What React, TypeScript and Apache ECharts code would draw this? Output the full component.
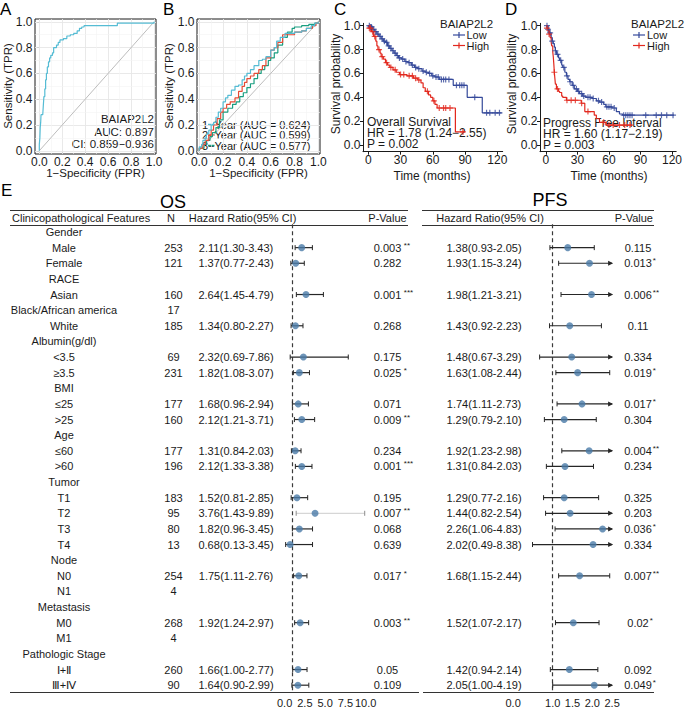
import React, { useEffect, useRef } from 'react';
import * as echarts from 'echarts';

const FONT = '"Liberation Sans", Arial, Helvetica, sans-serif';

// ---------- Panel A / B : ROC ----------
const rocTicks = [0, 0.2, 0.4, 0.6, 0.8, 1.0];
const rocMinor = [0.1, 0.3, 0.5, 0.7, 0.9];
const rocA: number[][] = [
  [0, 0], [0, 0.05], [0.005, 0.1], [0.008, 0.18], [0.012, 0.22], [0.015, 0.28], [0.03, 0.28], [0.035, 0.35],
  [0.04, 0.42], [0.048, 0.48], [0.055, 0.55], [0.062, 0.6], [0.07, 0.65], [0.08, 0.69], [0.09, 0.72],
  [0.1, 0.74], [0.115, 0.76], [0.125, 0.8], [0.15, 0.82], [0.165, 0.84], [0.18, 0.86], [0.21, 0.87],
  [0.24, 0.89], [0.27, 0.9], [0.3, 0.91], [0.33, 0.93], [0.35, 0.95], [0.37, 0.96], [0.39, 0.97],
  [0.66, 0.97], [0.68, 0.99], [0.95, 0.99], [1, 1],
];
const roc1y: number[][] = [
  [0, 0], [0, 0.03], [0.02, 0.05], [0.03, 0.08], [0.05, 0.1], [0.06, 0.13], [0.08, 0.16], [0.1, 0.2],
  [0.12, 0.22], [0.14, 0.26], [0.16, 0.3], [0.18, 0.33], [0.2, 0.38], [0.22, 0.41], [0.24, 0.43],
  [0.27, 0.47], [0.3, 0.5], [0.33, 0.51], [0.36, 0.55], [0.38, 0.58], [0.4, 0.6], [0.43, 0.63],
  [0.46, 0.66], [0.5, 0.7], [0.53, 0.71], [0.56, 0.73], [0.6, 0.78], [0.63, 0.8], [0.65, 0.85],
  [0.68, 0.88], [0.72, 0.91], [0.8, 0.92], [0.86, 0.93], [0.9, 0.95], [0.94, 0.97], [0.97, 0.99], [1, 1],
];
const roc2y: number[][] = [
  [0, 0], [0, 0.02], [0.03, 0.05], [0.05, 0.08], [0.08, 0.12], [0.1, 0.16], [0.12, 0.2], [0.15, 0.25],
  [0.18, 0.3], [0.2, 0.33], [0.23, 0.36], [0.26, 0.38], [0.3, 0.41], [0.33, 0.46], [0.36, 0.5],
  [0.38, 0.53], [0.4, 0.56], [0.43, 0.58], [0.46, 0.6], [0.5, 0.63], [0.53, 0.66], [0.56, 0.72],
  [0.6, 0.78], [0.63, 0.8], [0.66, 0.84], [0.7, 0.9], [0.75, 0.9], [0.8, 0.92], [0.86, 0.93],
  [0.9, 0.95], [0.95, 0.97], [0.98, 0.99], [1, 1],
];
const roc3y: number[][] = [
  [0, 0], [0, 0.02], [0.04, 0.05], [0.06, 0.08], [0.09, 0.11], [0.11, 0.14], [0.14, 0.18], [0.17, 0.24],
  [0.2, 0.3], [0.24, 0.33], [0.28, 0.36], [0.31, 0.38], [0.34, 0.42], [0.37, 0.45], [0.4, 0.49],
  [0.43, 0.52], [0.46, 0.56], [0.49, 0.6], [0.52, 0.63], [0.55, 0.66], [0.58, 0.7], [0.6, 0.72],
  [0.63, 0.76], [0.66, 0.82], [0.7, 0.88], [0.74, 0.92], [0.78, 0.95], [0.8, 0.96], [0.86, 0.97],
  [0.92, 0.98], [0.97, 0.99], [1, 1],
];
const rocLegend = ['1\u2212Year (AUC = 0.624)', '2\u2212Year (AUC = 0.599)', '3\u2212Year (AUC = 0.577)'];

// ---------- Panel C / D : Kaplan-Meier ----------
const kmTimeTicks = [0, 30, 60, 90, 120];
const kmSurvTicks = [0, 0.2, 0.4, 0.6, 0.8, 1.0];
const osLow: number[][] = [
  [0, 1], [2, 0.99], [4, 0.97], [6, 0.95], [8, 0.93], [10, 0.91], [12, 0.89], [14, 0.87], [16, 0.86],
  [18, 0.83], [20, 0.81], [22, 0.79], [24, 0.77], [26, 0.75], [28, 0.73], [31, 0.72], [34, 0.7],
  [37, 0.69], [40, 0.67], [43, 0.65], [46, 0.64], [50, 0.62], [53, 0.61], [56, 0.6], [59, 0.58],
  [62, 0.57], [66, 0.55], [79, 0.5], [92, 0.4], [106, 0.27], [124, 0.27],
];
const osHigh: number[][] = [
  [0, 1], [1, 0.98], [3, 0.95], [5, 0.91], [7, 0.87], [8, 0.83], [9, 0.8], [11, 0.77], [12, 0.74],
  [14, 0.72], [16, 0.69], [18, 0.67], [20, 0.65], [23, 0.63], [26, 0.61], [29, 0.59], [36, 0.58],
  [42, 0.56], [46, 0.545], [49, 0.52], [51, 0.48], [53, 0.45], [56, 0.42], [58, 0.4], [60, 0.37],
  [62, 0.34], [64, 0.31], [81, 0.11], [90, 0.11],
];
const osLowCensor = [1, 2, 3, 5, 7, 9, 11, 13, 15, 17, 19, 21, 23, 25, 27, 29, 32, 35, 38, 41, 44, 47, 51, 54, 57, 60, 63, 65, 68, 70, 72, 75, 82, 85, 87, 89, 99, 110, 113, 118, 122];
const osHighCensor = [1, 2, 4, 6, 10, 13, 17, 21, 25, 30, 33, 38, 41, 44, 47, 55, 61, 66, 70, 72, 76, 88];
const pfsLow: number[][] = [
  [0, 1], [2, 0.97], [3, 0.94], [5, 0.9], [6, 0.87], [7, 0.85], [8, 0.82], [9, 0.79], [10, 0.76],
  [12, 0.73], [13, 0.71], [15, 0.67], [16, 0.65], [18, 0.61], [19.5, 0.58], [21, 0.55], [22.6, 0.53],
  [25, 0.5], [27, 0.47], [30, 0.45], [32, 0.43], [35, 0.41], [38, 0.4], [44, 0.39], [48, 0.37],
  [51, 0.36], [55, 0.34], [57, 0.32], [63, 0.31], [67, 0.28], [70, 0.26], [73, 0.25], [122, 0.25],
];
const pfsHigh: number[][] = [
  [0, 1], [1, 0.98], [2, 0.96], [3, 0.93], [4, 0.9], [5, 0.86], [5.5, 0.83], [6.5, 0.78], [7, 0.74],
  [7.5, 0.68], [8, 0.61], [8.5, 0.56], [9, 0.51], [10, 0.47], [12, 0.45], [13, 0.44], [15, 0.41],
  [16, 0.4], [19.5, 0.375], [33.6, 0.35], [37, 0.28], [46, 0.25], [48, 0.22], [51, 0.19], [57, 0.167],
  [82, 0.167],
];
const pfsLowCensor = [1, 2, 4, 6, 9, 11, 14, 17, 20, 23, 26, 29, 31, 34, 36, 40, 42, 45, 50, 53, 58, 60, 62, 65, 74, 76, 78, 80, 82, 95, 105, 110, 115, 121];
const pfsHighCensor = [1, 3, 8, 11, 20, 24, 28, 34, 40, 55, 60, 64, 70, 75, 80];

// ---------- Panel E : forest table ----------
const rowLabels = ['Gender', 'Male', 'Female', 'RACE', 'Asian', 'Black/African america', 'White',
  'Albumin(g/dl)', '<3.5', '\u22653.5', 'BMI', '\u226425', '>25', 'Age', '\u226460', '>60', 'Tumor',
  'T1', 'T2', 'T3', 'T4', 'Node', 'N0', 'N1', 'Metastasis', 'M0', 'M1', 'Pathologic Stage',
  '\u2160+\u2161', '\u2162+\u2163'];
const rowN = ['', '253', '121', '', '160', '17', '185', '', '69', '231', '', '177', '160', '', '177',
  '196', '', '183', '95', '80', '13', '', '254', '4', '', '268', '4', '', '260', '90'];
const osHR = [null, 2.11, 1.37, null, 2.64, null, 1.34, null, 2.32, 1.82, null, 1.68, 2.12, null, 1.31,
  2.12, null, 1.52, 3.76, 1.82, 0.68, null, 1.75, null, null, 1.92, null, null, 1.66, 1.64];
const osLo = [null, 1.30, 0.77, null, 1.45, null, 0.80, null, 0.69, 1.08, null, 0.96, 1.21, null, 0.84,
  1.33, null, 0.81, 1.43, 0.96, 0.13, null, 1.11, null, null, 1.24, null, null, 1.00, 0.90];
const osHi = [null, 3.43, 2.43, null, 4.79, null, 2.27, null, 7.86, 3.07, null, 2.94, 3.71, null, 2.03,
  3.38, null, 2.85, 9.89, 3.45, 3.45, null, 2.76, null, null, 2.97, null, null, 2.77, 2.99];
const osP = ['', '0.003', '0.282', '', '0.001', '', '0.268', '', '0.175', '0.025', '', '0.071', '0.009',
  '', '0.234', '0.001', '', '0.195', '0.007', '0.068', '0.639', '', '0.017', '', '', '0.003', '', '',
  '0.05', '0.109'];
const osStars = ['', '**', '', '', '***', '', '', '', '', '*', '', '', '**', '', '', '***', '', '', '**',
  '', '', '', '*', '', '', '**', '', '', '', ''];
const pfsHR = [null, 1.38, 1.93, null, 1.98, null, 1.43, null, 1.48, 1.63, null, 1.74, 1.29, null, 1.92,
  1.31, null, 1.29, 1.44, 2.26, 2.02, null, 1.68, null, null, 1.52, null, null, 1.42, 2.05];
const pfsLo = [null, 0.93, 1.15, null, 1.21, null, 0.92, null, 0.67, 1.08, null, 1.11, 0.79, null, 1.23,
  0.84, null, 0.77, 0.82, 1.06, 0.49, null, 1.15, null, null, 1.07, null, null, 0.94, 1.00];
const pfsHi = [null, 2.05, 3.24, null, 3.21, null, 2.23, null, 3.29, 2.44, null, 2.73, 2.10, null, 2.98,
  2.03, null, 2.16, 2.54, 4.83, 8.38, null, 2.44, null, null, 2.17, null, null, 2.14, 4.19];
const pfsP = ['', '0.115', '0.013', '', '0.006', '', '0.11', '', '0.334', '0.019', '', '0.017', '0.304',
  '', '0.004', '0.234', '', '0.325', '0.203', '0.036', '0.334', '', '0.007', '', '', '0.02', '', '',
  '0.092', '0.049'];
const pfsStars = ['', '', '*', '', '**', '', '', '', '', '*', '', '*', '', '', '**', '', '', '', '', '*',
  '', '', '**', '', '', '*', '', '', '', '*'];

// ---------- helpers ----------
let mctx: CanvasRenderingContext2D | null = null;
function measure(t: string, size: number): number {
  if (!mctx) mctx = document.createElement('canvas').getContext('2d');
  if (!mctx) return t.length * size * 0.55;
  mctx.font = `${size}px "Liberation Sans", Arial`;
  return mctx.measureText(t).width;
}
function survAt(steps: number[][], t: number): number {
  let s = 1;
  for (const [ti, si] of steps) { if (ti <= t) s = si; else break; }
  return s;
}
const hrText = (h: number, l: number, u: number) => `${h.toFixed(2)}(${l.toFixed(2)}-${u.toFixed(2)})`;

function txt(text: string, x: number, y: number, align: string, size = 11, fill = '#1a1a1a', rot = 0): any {
  return {
    type: 'text', x, y, rotation: rot, silent: true,
    style: { text, fontSize: size, fontFamily: FONT, fill, align, verticalAlign: 'middle', textAlign: align, textVerticalAlign: 'middle' },
  };
}
function gline(x1: number, y1: number, x2: number, y2: number, stroke = '#1a1a1a', w = 1): any {
  return { type: 'line', silent: true, shape: { x1, y1, x2, y2 }, style: { stroke, lineWidth: w } };
}

const INK = '#1a1a1a';
const BLUE = '#34499A';
const RED = '#E2281E';
const CYAN = '#55BCD4';
const NPG_RED = '#E64B35';
const NPG_GREEN = '#1A9E80';
const DOT = '#4A7AA8';
const PLUS = 'path://M2,0H3V2H5V3H3V5H2V3H0V2H2Z';

function buildOption(): any {
  const f1 = (v: number) => v.toFixed(1);
  const tickLab = (vals: number[], fmt: any, margin: number) => ({
    customValues: vals, formatter: fmt, fontSize: 12, color: INK, fontFamily: FONT, margin,
  });
  const ticks = (vals: number[], len: number) => ({ show: true, customValues: vals, length: len, lineStyle: { color: INK, width: 1 } });

  const gridMark = {
    silent: true, symbol: ['none', 'none'], z: 1, animation: false,
    label: { show: false }, emphasis: { disabled: true },
    lineStyle: { type: 'solid', color: '#e8e8e8', width: 1 },
    data: [
      ...rocTicks.map((v) => ({ xAxis: v, lineStyle: { type: 'solid', color: '#e6e6e6', width: 0.9 } })),
      ...rocTicks.map((v) => ({ yAxis: v, lineStyle: { type: 'solid', color: '#e6e6e6', width: 0.9 } })),
      ...rocMinor.map((v) => ({ xAxis: v, lineStyle: { type: 'solid', color: '#f3f3f3', width: 0.6 } })),
      ...rocMinor.map((v) => ({ yAxis: v, lineStyle: { type: 'solid', color: '#f3f3f3', width: 0.6 } })),
    ],
  };

  const rocLine = (gi: number, data: number[][], color: string, z: number) => ({
    type: 'line', xAxisIndex: gi, yAxisIndex: gi, data, step: 'end', symbol: 'none', silent: true,
    lineStyle: { color, width: 1.2 }, z,
  });
  const diag = (gi: number) => ({
    type: 'line', xAxisIndex: gi, yAxisIndex: gi, data: [[0, 0], [1, 1]], symbol: 'none', silent: true,
    lineStyle: { color: '#bdbdbd', width: 1 }, z: 2, markLine: gridMark,
  });
  const kmLine = (gi: number, data: number[][], color: string) => ({
    type: 'line', xAxisIndex: gi, yAxisIndex: gi, data, step: 'end', symbol: 'none', silent: true,
    lineStyle: { color, width: 1.2 }, z: 3,
  });
  const kmCensor = (gi: number, steps: number[][], times: number[], color: string) => ({
    type: 'scatter', xAxisIndex: gi, yAxisIndex: gi, silent: true,
    data: times.map((t) => [t, survAt(steps, t)]), symbol: PLUS, symbolSize: 6,
    itemStyle: { color }, z: 4,
  });

  const errorBars = (gi: number, hr: any[], lo: any[], hi: any[], max: number, faded: number[]) => ({
    type: 'custom', xAxisIndex: gi, yAxisIndex: gi, silent: true, z: 3, clip: false,
    encode: { x: [1, 2, 3], y: 0 },
    data: hr.map((h, i) => (h == null ? null : [i, h, lo[i], hi[i]])).filter((d) => d),
    renderItem: (params: any, api: any) => {
      const i = api.value(0);
      const l = api.value(2);
      const u = api.value(3);
      const p1 = api.coord([l, i]);
      const y = p1[1];
      const x1 = p1[0];
      const over = u > max;
      const x2 = api.coord([over ? max : u, i])[0];
      const isFaded = faded.indexOf(i) >= 0;
      const lc = isFaded ? '#d6d6d6' : '#262626';
      const cc = isFaded ? '#8c8c8c' : '#262626';
      const ch: any[] = [
        { type: 'line', shape: { x1, y1: y, x2, y2: y }, style: { stroke: lc, lineWidth: 1.2 } },
        { type: 'line', shape: { x1, y1: y - 2.5, x2: x1, y2: y + 2.5 }, style: { stroke: cc, lineWidth: 1 } },
      ];
      if (over) {
        ch.push({ type: 'polygon', shape: { points: [[x2 + 1, y], [x2 - 4, y - 2.5], [x2 - 4, y + 2.5]] }, style: { fill: '#262626' } });
      } else {
        ch.push({ type: 'line', shape: { x1: x2, y1: y - 2.5, x2, y2: y + 2.5 }, style: { stroke: cc, lineWidth: 1 } });
      }
      return { type: 'group', children: ch };
    },
  });
  const dots = (gi: number, hr: any[]) => ({
    type: 'scatter', xAxisIndex: gi, yAxisIndex: gi, silent: true, z: 4,
    data: hr.map((h, i) => (h == null ? null : [h, i])).filter((d) => d),
    symbol: 'circle', symbolSize: 7, itemStyle: { color: DOT },
    markLine: {
      silent: true, symbol: ['none', 'none'], z: 2, animation: false, label: { show: false },
      emphasis: { disabled: true },
      lineStyle: { color: '#3a3a3a', type: [4, 3], width: 1.2 },
      data: [{ xAxis: 1 }],
    },
  });

  const osTable = {
    type: 'custom', xAxisIndex: 4, yAxisIndex: 4, silent: true, clip: false, z: 5,
    encode: { x: 0, y: 1 },
    data: rowLabels.map((_, i) => [0, i]),
    renderItem: (params: any, api: any) => {
      const i = api.value(1);
      const y = api.coord([0, i])[1];
      const ch: any[] = [txt(rowLabels[i], 64, y, 'center')];
      if (rowN[i]) ch.push(txt(rowN[i], 173.5, y, 'center'));
      const h = osHR[i];
      if (h != null) ch.push(txt(hrText(h, osLo[i] as number, osHi[i] as number), 236, y, 'center'));
      if (osP[i]) {
        ch.push(txt(osP[i], 387.5, y, 'center'));
        if (osStars[i]) ch.push(txt(osStars[i], 387.5 + measure(osP[i], 11) / 2 + 2.5, y - 2.5, 'left', 8));
      }
      return { type: 'group', children: ch };
    },
  };
  const pfsTable = {
    type: 'custom', xAxisIndex: 5, yAxisIndex: 5, silent: true, clip: false, z: 5,
    encode: { x: 0, y: 1 },
    data: rowLabels.map((_, i) => [0, i]),
    renderItem: (params: any, api: any) => {
      const i = api.value(1);
      const y = api.coord([0, i])[1];
      const ch: any[] = [];
      const h = pfsHR[i];
      if (h != null) ch.push(txt(hrText(h, pfsLo[i] as number, pfsHi[i] as number), 484, y, 'center'));
      if (pfsP[i]) {
        ch.push(txt(pfsP[i], 638, y, 'center'));
        if (pfsStars[i]) ch.push(txt(pfsStars[i], 638 + measure(pfsP[i], 11) / 2 + 1, y - 2.5, 'left', 8));
      }
      return { type: 'group', children: ch };
    },
  };

  const graphics: any[] = [
    // panel letters
    txt('A', 0, 9, 'left', 17, '#000'),
    txt('B', 163, 9, 'left', 17, '#000'),
    txt('C', 334, 9, 'left', 17, '#000'),
    txt('D', 505, 9, 'left', 17, '#000'),
    txt('E', 1, 190, 'left', 17, '#000'),
    // A annotations
    txt('BAIAP2L2', 154, 119, 'right', 11.5, INK),
    txt('AUC: 0.897', 154, 131.5, 'right', 11.5, INK),
    txt('CI: 0.859\u22120.936', 154, 144, 'right', 11.5, INK),
    // axis titles
    txt('Sensitivity (TPR)', 8, 86, 'center', 11.5, INK, Math.PI / 2),
    txt('1\u2212Specificity (FPR)', 95.5, 173, 'center', 11.5, INK),
    txt('Sensitivity (TPR)', 169, 86, 'center', 11.5, INK, Math.PI / 2),
    txt('1\u2212Specificity (FPR)', 258.5, 173, 'center', 11.5, INK),
    txt('Survival probability', 336, 84, 'center', 12, INK, Math.PI / 2),
    txt('Time (months)', 432, 176, 'center', 12, INK),
    txt('Survival probability', 512, 84, 'center', 12, INK, Math.PI / 2),
    txt('Time (months)', 609, 176, 'center', 12, INK),
    // B legend
    txt(rocLegend[0], 202, 124.5, 'left', 11, INK),
    txt(rocLegend[1], 202, 135, 'left', 11, INK),
    txt(rocLegend[2], 202, 145.5, 'left', 11, INK),
    gline(208, 124.5, 214.5, 124.5, CYAN, 1.5),
    gline(208, 135, 214.5, 135, NPG_RED, 1.5),
    gline(208, 145.5, 214.5, 145.5, NPG_GREEN, 1.5),
    // C legend & stats
    txt('BAIAP2L2', 440, 24, 'left', 11.5, INK),
    gline(453, 35, 465, 35, BLUE, 1.2), gline(459, 32, 459, 38, BLUE, 1.2),
    txt('Low', 466.5, 35, 'left', 11, INK),
    gline(453, 45.5, 465, 45.5, RED, 1.2), gline(459, 42.5, 459, 48.5, RED, 1.2),
    txt('High', 466.5, 45.5, 'left', 11, INK),
    txt('Overall Survival', 367, 121.5, 'left', 12, INK),
    txt('HR = 1.78 (1.24\u22122.55)', 367, 132.5, 'left', 12, INK),
    txt('P = 0.002', 367, 143.5, 'left', 12, INK),
    // D legend & stats
    txt('BAIAP2L2', 631, 24, 'left', 11.5, INK),
    gline(633, 35, 645, 35, BLUE, 1.2), gline(639, 32, 639, 38, BLUE, 1.2),
    txt('Low', 647, 35, 'left', 11, INK),
    gline(633, 45.5, 645, 45.5, RED, 1.2), gline(639, 42.5, 639, 48.5, RED, 1.2),
    txt('High', 647, 45.5, 'left', 11, INK),
    txt('Progress Free Interval', 543, 122.5, 'left', 12, INK),
    txt('HR = 1.60 (1.17\u22122.19)', 543, 133.5, 'left', 12, INK),
    txt('P = 0.003', 543, 144.5, 'left', 12, INK),
    // E headers
    txt('OS', 173, 202, 'center', 18, '#000'),
    txt('PFS', 550, 200, 'center', 18, '#000'),
    gline(10, 210.5, 408, 210.5, '#333', 1.2),
    gline(10, 225.5, 408, 225.5, '#333', 1.2),
    gline(422, 210.5, 654, 210.5, '#333', 1.2),
    gline(422, 225.5, 654, 225.5, '#333', 1.2),
    txt('Clinicopathological Features', 12, 218, 'left', 11),
    txt('N', 171, 218, 'center', 11),
    txt('Hazard Ratio(95% CI)', 242.5, 218, 'center', 11),
    txt('P-Value', 387.5, 218, 'center', 11),
    txt('Hazard Ratio(95% CI)', 490, 218, 'center', 11),
    txt('P-Value', 653, 218, 'right', 11),
    gline(10, 692.5, 419, 692.5, '#333', 1.2),
    gline(423, 692.5, 654, 692.5, '#333', 1.2),
  ];

  const forestX = (gi: number, min: number, max: number, interval: number, fmt: any) => ({
    gridIndex: gi, type: 'value', min, max, interval,
    axisLine: { show: false }, axisTick: { show: false }, splitLine: { show: false },
    axisLabel: { formatter: fmt, fontSize: 11, color: INK, fontFamily: FONT, margin: 4 },
  });
  const forestY = (gi: number) => ({ gridIndex: gi, type: 'category', data: rowLabels, inverse: true, show: false });

  return {
    animation: false,
    textStyle: { fontFamily: FONT },
    graphic: { elements: graphics },
    grid: [
      { left: 35, top: 19, width: 121, height: 135, show: true, borderColor: INK, borderWidth: 1, backgroundColor: 'transparent' },
      { left: 197, top: 19, width: 123, height: 135, show: true, borderColor: INK, borderWidth: 1, backgroundColor: 'transparent' },
      { left: 363, top: 23.3, width: 139.7, height: 128.4 },
      { left: 540, top: 23.3, width: 137.6, height: 128.4 },
      { left: 284.6, top: 224.2, width: 81, height: 469.5 },
      { left: 513.1, top: 224.2, width: 99, height: 469.5 },
    ],
    xAxis: [
      { gridIndex: 0, type: 'value', min: -0.0375, max: 1.017, axisLine: { show: false }, axisTick: ticks(rocTicks, 2.5), axisLabel: tickLab(rocTicks, f1, 2), splitLine: { show: false } },
      { gridIndex: 1, type: 'value', min: -0.019, max: 1.014, axisLine: { show: false }, axisTick: ticks(rocTicks, 2.5), axisLabel: tickLab(rocTicks, f1, 2), splitLine: { show: false } },
      { gridIndex: 2, type: 'value', min: -4.9, max: 125, axisLine: { show: true, onZero: false, lineStyle: { color: INK } }, axisTick: ticks(kmTimeTicks, 3), axisLabel: tickLab(kmTimeTicks, (v: number) => String(v), 2), splitLine: { show: false } },
      { gridIndex: 3, type: 'value', min: -5.65, max: 124, axisLine: { show: true, onZero: false, lineStyle: { color: INK } }, axisTick: ticks(kmTimeTicks, 3), axisLabel: tickLab(kmTimeTicks, (v: number) => String(v), 2), splitLine: { show: false } },
      forestX(4, 0, 10, 2.5, (v: number) => v.toFixed(1)),
      forestX(5, 0, 2.5, 0.5, (v: number) => (Math.abs(v - 0.5) < 1e-9 ? '' : v.toFixed(1))),
    ],
    yAxis: [
      { gridIndex: 0, type: 'value', min: -0.025, max: 1.022, axisLine: { show: false }, axisTick: ticks(rocTicks, 2.5), axisLabel: tickLab(rocTicks, f1, 2.5), splitLine: { show: false } },
      { gridIndex: 1, type: 'value', min: -0.025, max: 1.022, axisLine: { show: false }, axisTick: ticks(rocTicks, 2.5), axisLabel: tickLab(rocTicks, f1, 2.5), splitLine: { show: false } },
      { gridIndex: 2, type: 'value', min: -0.056, max: 1.02, axisLine: { show: true, onZero: false, lineStyle: { color: INK } }, axisTick: ticks(kmSurvTicks, 3), axisLabel: tickLab(kmSurvTicks, f1, 2.5), splitLine: { show: false } },
      { gridIndex: 3, type: 'value', min: -0.056, max: 1.02, axisLine: { show: true, onZero: false, lineStyle: { color: INK } }, axisTick: ticks(kmSurvTicks, 3), axisLabel: tickLab(kmSurvTicks, f1, 2.5), splitLine: { show: false } },
      forestY(4),
      forestY(5),
    ],
    series: [
      diag(0),
      rocLine(0, rocA, CYAN, 3),
      diag(1),
      rocLine(1, roc3y, NPG_GREEN, 3),
      rocLine(1, roc2y, NPG_RED, 4),
      rocLine(1, roc1y, CYAN, 5),
      kmLine(2, osLow, BLUE),
      kmLine(2, osHigh, RED),
      kmCensor(2, osLow, osLowCensor, BLUE),
      kmCensor(2, osHigh, osHighCensor, RED),
      kmLine(3, pfsLow, BLUE),
      kmLine(3, pfsHigh, RED),
      kmCensor(3, pfsLow, pfsLowCensor, BLUE),
      kmCensor(3, pfsHigh, pfsHighCensor, RED),
      osTable,
      errorBars(4, osHR, osLo, osHi, 10, [rowLabels.indexOf('T2')]),
      dots(4, osHR),
      pfsTable,
      errorBars(5, pfsHR, pfsLo, pfsHi, 2.5, []),
      dots(5, pfsHR),
    ],
  };
}

export default function App() {
  const ref = useRef<HTMLDivElement>(null);
  useEffect(() => {
    document.body.style.margin = '0';
    if (!ref.current) return;
    const chart = echarts.init(ref.current, undefined, { renderer: 'svg' });
    chart.setOption(buildOption());
    return () => chart.dispose();
  }, []);
  return <div ref={ref} style={{ width: 685, height: 708 }} />;
}
